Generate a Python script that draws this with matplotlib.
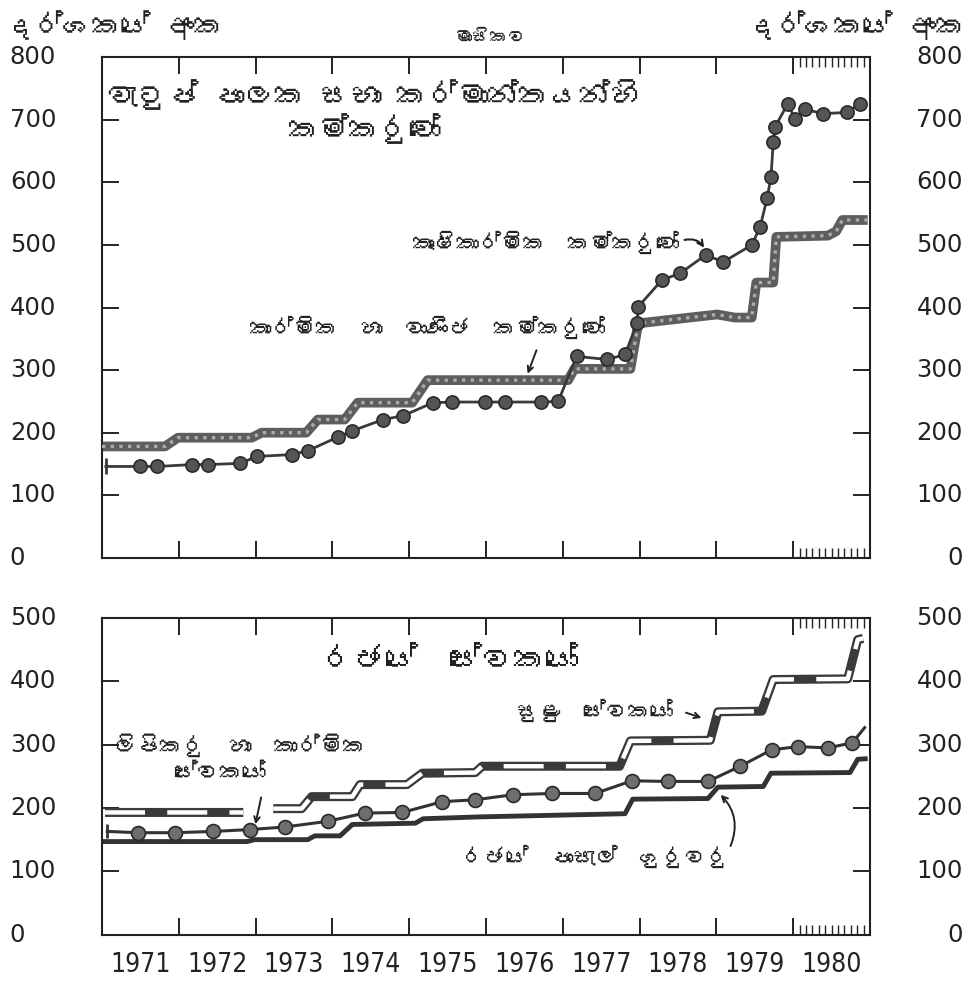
"""
Wage rate indices, 1971-1980 (monthly): wages board trades and government employees.
"""

import numpy as np
import matplotlib
matplotlib.use('Agg')
import matplotlib.pyplot as plt
from matplotlib import font_manager
from matplotlib.transforms import blended_transform_factory


def sinhala_family():
    """Return the name of an installed font that has Sinhala glyphs, if any."""
    try:
        from fontTools.ttLib import TTFont
    except ImportError:
        return None
    for entry in font_manager.fontManager.ttflist:
        try:
            font = TTFont(entry.fname, fontNumber=0, lazy=True)
            cmap = font.getBestCmap() or {}
            if 0x0D9A in cmap:
                return entry.name
        except Exception:
            continue
    return None


si_font = sinhala_family()
families = [si_font, 'DejaVu Sans'] if si_font else ['DejaVu Sans']
plt.rcParams['font.family'] = families

# ---- data ----
years = list(range(1971, 1981))
top_yticks = [0, 100, 200, 300, 400, 500, 600, 700, 800]
bot_yticks = [0, 100, 200, 300, 400, 500]

# industrial and commercial workers (thick grey line)
ind_t = [1971.00, 1971.82, 1971.99, 1972.95, 1973.08, 1973.66, 1973.81, 1974.16,
         1974.33, 1975.04, 1975.24, 1977.07, 1977.15, 1977.88, 1977.98, 1978.07,
         1979.01, 1979.24, 1979.46, 1979.52, 1979.74, 1979.78, 1980.45, 1980.56,
         1980.64, 1980.97]
ind_v = [178, 178, 192, 192, 200, 200, 221, 221, 248, 248, 284, 284, 302, 302,
         373, 376, 389, 384, 384, 440, 440, 513, 515, 522, 540, 540]

# agricultural workers (dots)
agr_t = [1971.05, 1971.49, 1971.72, 1972.17, 1972.38, 1972.80, 1973.02, 1973.47,
         1973.68, 1974.07, 1974.26, 1974.66, 1974.92, 1975.31, 1975.56, 1975.99,
         1976.25, 1976.72, 1976.94, 1977.18, 1977.58, 1977.81, 1977.97, 1977.98,
         1978.29, 1978.53, 1978.86, 1979.09, 1979.46, 1979.57, 1979.66, 1979.71,
         1979.74, 1979.76, 1979.93, 1980.02, 1980.15, 1980.39, 1980.70, 1980.87]
agr_v = [146, 146, 146, 149, 149, 151, 162, 165, 171, 193, 203, 221, 227, 248,
         249, 249, 249, 249, 250, 322, 317, 325, 376, 401, 444, 455, 484, 473,
         500, 529, 575, 608, 664, 688, 726, 702, 717, 710, 712, 726]

# government school teachers (plain dark line)
tch_t = [1971.01, 1972.89, 1972.99, 1973.68, 1973.77, 1974.10, 1974.26, 1975.08,
         1975.18, 1975.92, 1977.81, 1977.91, 1978.89, 1979.02, 1979.61, 1979.71,
         1980.74, 1980.84, 1980.97]
tch_v = [147, 147, 150, 150, 156, 156, 174, 176, 183, 186, 191, 214, 215, 233,
         234, 255, 256, 277, 278]

# clerical and technical employees (dots)
clk_t = [1971.07, 1971.47, 1971.95, 1972.45, 1972.93, 1973.38, 1973.94, 1974.42,
         1974.91, 1975.43, 1975.86, 1976.35, 1976.86, 1977.42, 1977.90, 1978.37,
         1978.89, 1979.31, 1979.72, 1980.06, 1980.45, 1980.77, 1980.93]
clk_v = [163, 161, 161, 163, 166, 170, 179, 192, 193, 210, 213, 221, 223, 223,
         243, 242, 242, 266, 292, 297, 295, 303, 327]

# minor employees (double band); nan marks the gap in late 1972
min_t = [1971.04, 1972.84, np.nan, 1973.23, 1973.60, 1973.73, 1974.26, 1974.36,
         1974.97, 1975.17, 1975.86, 1975.95, 1977.74, 1977.88, 1978.92, 1979.02,
         1979.59, 1979.74, 1980.71, 1980.84, 1980.91]
min_v = [193, 193, np.nan, 199, 199, 218, 218, 237, 237, 255, 256, 266, 266,
         306, 307, 352, 353, 403, 404, 466, 468]

INK = '#222222'
NUM_FONT = dict(family='DejaVu Sans')
YEAR_FONT = dict(family='DejaVu Sans', stretch='condensed')

fig = plt.figure(figsize=(9.71, 9.89), dpi=100)
ax_top = fig.add_axes([0.105, 0.436, 0.791, 0.506])
ax_bot = fig.add_axes([0.105, 0.055, 0.791, 0.320])


def style_axis(ax, yticks, ymax):
    ax.set_xlim(1971, 1981)
    ax.set_ylim(0, ymax)
    for sp in ax.spines.values():
        sp.set_linewidth(1.5)
        sp.set_color(INK)
    ax.set_xticks(years[1:])
    ax.set_xticks([1980 + k / 12 for k in range(1, 12)], minor=True)
    ax.set_yticks(yticks)
    ax.tick_params(axis='both', which='major', direction='in', length=12,
                   width=1.4, color=INK, top=True, bottom=True, left=True,
                   right=True, labelbottom=False, labelleft=False)
    ax.tick_params(axis='x', which='minor', direction='in', length=7,
                   width=1.0, color=INK, top=True, bottom=True)
    trans = blended_transform_factory(ax.transAxes, ax.transData)
    for v in yticks:
        ax.text(-0.120, v, str(v), transform=trans, ha='left', va='center',
                fontsize=17.5, color=INK, **NUM_FONT)
        ax.text(1.121, v, str(v), transform=trans, ha='right', va='center',
                fontsize=17.5, color=INK, **NUM_FONT)


style_axis(ax_top, top_yticks, 800)
style_axis(ax_bot, bot_yticks, 500)

# ---- top panel: wages board trades ----
ax_top.plot(ind_t, ind_v, color='#5e5e5e', lw=7, solid_capstyle='butt', zorder=2)
ax_top.plot(ind_t, ind_v, color='#acacac', lw=2.4, ls=(0, (1, 1.6)), zorder=3)

ax_top.plot(agr_t, agr_v, color='#3a3a3a', lw=2, marker='o', ms=9.5,
            mfc='#555555', mec='#2a2a2a', mew=1.2,
            markevery=list(range(1, len(agr_t))), zorder=4)
ax_top.plot(agr_t[0], agr_v[0], marker='|', ms=11, mew=2, color='#3a3a3a')

ax_top.text(0.006, 0.926, 'වැටුප් පාලක සභා කර්මාන්තයන්හි',
            transform=ax_top.transAxes, ha='left', va='center',
            fontsize=22, fontweight='bold', color=INK)
ax_top.text(0.342, 0.858, 'කම්කරුවෝ', transform=ax_top.transAxes,
            ha='center', va='center', fontsize=22, fontweight='bold', color=INK)

ax_top.text(0.578, 0.630, 'කෘෂිකාර්මික  කම්කරුවෝ', transform=ax_top.transAxes,
            ha='center', va='center', fontsize=16, color=INK)
ax_top.annotate('', xy=(1978.86, 492), xytext=(1978.55, 507),
                arrowprops=dict(arrowstyle='->', color=INK, lw=1.5,
                                connectionstyle='arc3,rad=-0.4'))

ax_top.text(0.423, 0.460, 'කාර්මික  හා  වාණිජ  කම්කරුවෝ',
            transform=ax_top.transAxes, ha='center', va='center',
            fontsize=16, color=INK)
ax_top.annotate('', xy=(1976.53, 290), xytext=(1976.67, 336),
                arrowprops=dict(arrowstyle='->', color=INK, lw=1.4))

# ---- bottom panel: government employees ----
ax_bot.plot(tch_t, tch_v, color='#333333', lw=3.5, solid_capstyle='butt', zorder=2)

ax_bot.plot(clk_t, clk_v, color='#333333', lw=2.2, marker='o', ms=10,
            mfc='#6e6e6e', mec='#2a2a2a', mew=1.2,
            markevery=list(range(1, len(clk_t) - 1)), zorder=4)
ax_bot.plot(clk_t[0], clk_v[0], marker='|', ms=10, mew=2, color='#333333')

ax_bot.plot(min_t, min_v, color='#3a3a3a', lw=6.5, solid_capstyle='butt', zorder=3)
ax_bot.plot(min_t, min_v, color='white', lw=3.2, ls=(0, (9, 5)),
            solid_capstyle='butt', zorder=3)

ax_bot.text(0.453, 0.868, 'රජයේ  සේවකයෝ', transform=ax_bot.transAxes,
            ha='center', va='center', fontsize=23, fontweight='bold', color=INK)

ax_bot.text(0.016, 0.600, 'ලිපිකරු  හා  කාර්මික', transform=ax_bot.transAxes,
            ha='left', va='center', fontsize=16.5, fontweight='bold', color=INK)
ax_bot.text(0.154, 0.511, 'සේවකයෝ', transform=ax_bot.transAxes,
            ha='center', va='center', fontsize=16.5, fontweight='bold', color=INK)
ax_bot.annotate('', xy=(1972.99, 170), xytext=(1973.08, 221),
                arrowprops=dict(arrowstyle='->', color=INK, lw=1.4))

ax_bot.text(0.642, 0.710, 'සුළු  සේවකයෝ', transform=ax_bot.transAxes,
            ha='center', va='center', fontsize=16, fontweight='bold', color=INK)
ax_bot.annotate('', xy=(1978.84, 341), xytext=(1978.57, 352),
                arrowprops=dict(arrowstyle='->', color=INK, lw=1.4))

ax_bot.text(0.642, 0.246, 'රජයේ  පාසැල්  ගුරුවරු', transform=ax_bot.transAxes,
            ha='center', va='center', fontsize=16, color=INK)
ax_bot.annotate('', xy=(1979.03, 224), xytext=(1979.17, 136),
                arrowprops=dict(arrowstyle='->', color=INK, lw=1.4,
                                connectionstyle='arc3,rad=0.35'))

# year labels under the bottom panel, centred on each year
year_trans = blended_transform_factory(ax_bot.transData, ax_bot.transAxes)
for yr in years:
    ax_bot.text(yr + 0.5, -0.095, str(yr), transform=year_trans, ha='center',
                va='center', fontsize=19, color=INK, **YEAR_FONT)

# axis captions
fig.text(0.005, 0.975, 'දර්ශකයේ අංක', ha='left', va='center',
         fontsize=21, fontweight='bold', color=INK)
fig.text(0.994, 0.975, 'දර්ශකයේ අංක', ha='right', va='center',
         fontsize=21, fontweight='bold', color=INK)
fig.text(0.505, 0.962, 'මාසිකව', ha='center', va='center', fontsize=13,
         color=INK)

fig.savefig('out.png', dpi=100, facecolor='white')
